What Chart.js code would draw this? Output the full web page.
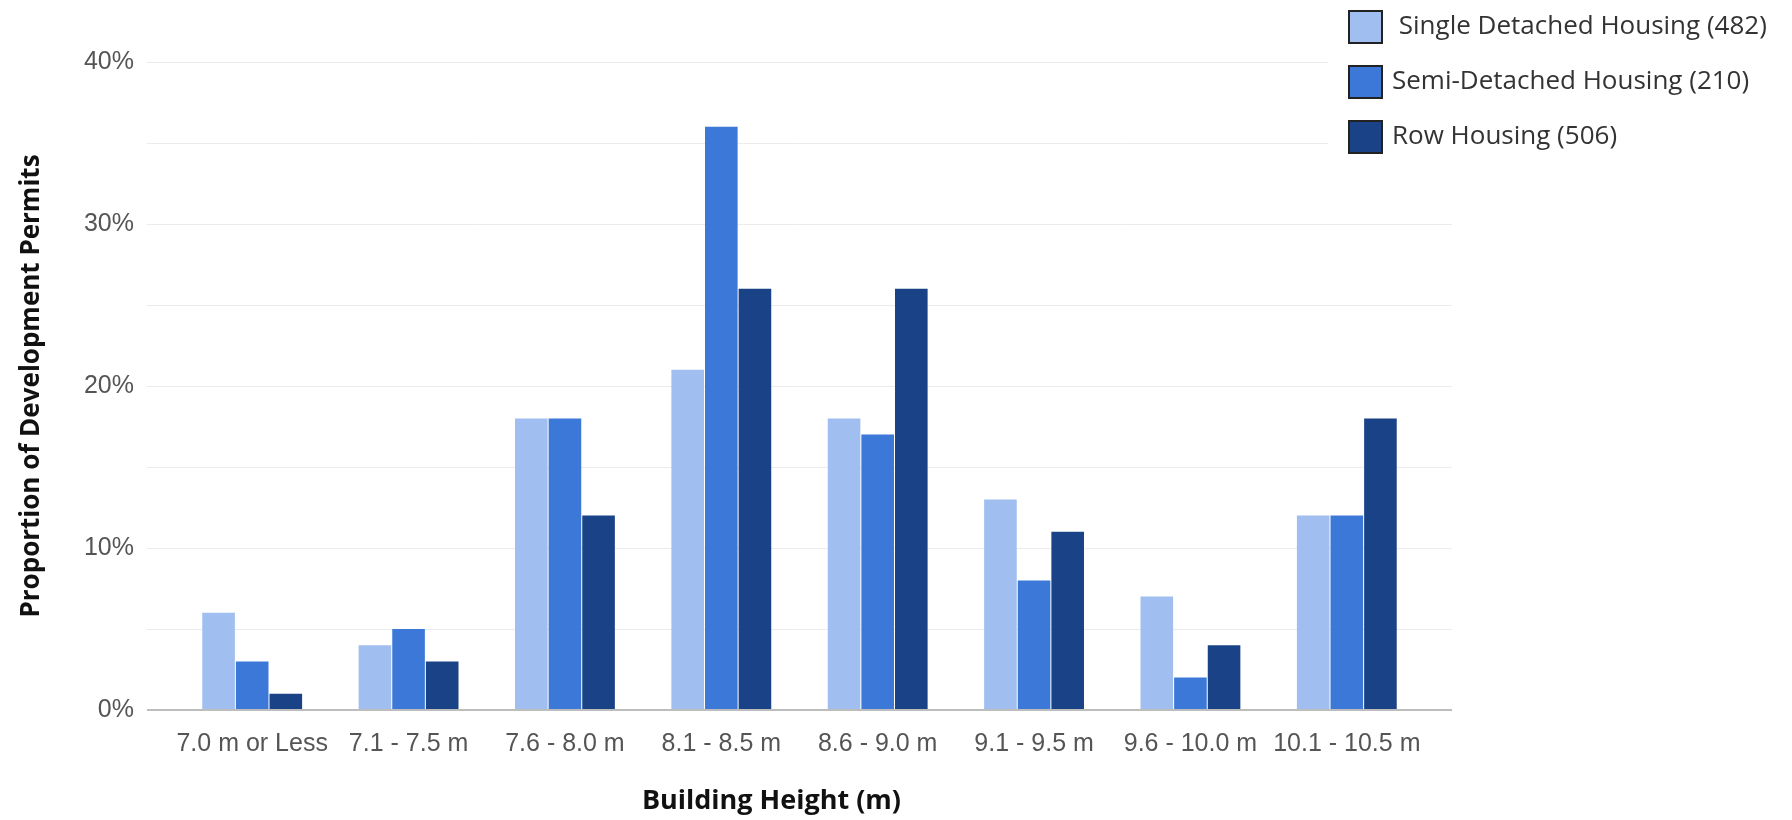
<!DOCTYPE html>
<html>
<head>
<meta charset="utf-8">
<script src="https://cdn.jsdelivr.net/npm/chart.js@4"></script>
<style>
  html, body { margin: 0; padding: 0; background: #fff; }
  #wrap { width: 1792px; height: 820px; }
</style>
</head>
<body>
<div id="wrap"><canvas id="myChart"></canvas></div>
<script>
const heightBands = ['7.0 m or Less', '7.1 - 7.5 m', '7.6 - 8.0 m', '8.1 - 8.5 m', '8.6 - 9.0 m', '9.1 - 9.5 m', '9.6 - 10.0 m', '10.1 - 10.5 m'];
const singleDetached = [6, 4, 18, 21, 18, 13, 7, 12];
const semiDetached = [3, 5, 18, 36, 17, 8, 2, 12];
const rowHousing = [1, 3, 12, 26, 26, 11, 4, 18];
const seriesNames = [' Single Detached Housing (482)', 'Semi-Detached Housing (210)', 'Row Housing (506)'];
const seriesColors = ['#a0bef0', '#3c78d8', '#1a4387'];
const yMax = 40;
const yStep = 5;

// grid lines and the axis line run a bit past the bars on both sides
const gridPlugin = {
    id: 'gridPlugin',
    beforeDatasetsDraw(chart) {
        const ctx = chart.ctx;
        const area = chart.chartArea;
        const y = chart.scales.y;
        ctx.save();
        ctx.strokeStyle = '#ebebeb';
        ctx.lineWidth = 1;
        y.ticks.forEach(t => {
            if (t.value === 0) return;
            const py = Math.round(y.getPixelForValue(t.value)) + 0.5;
            ctx.beginPath();
            ctx.moveTo(area.left - 27, py);
            ctx.lineTo(area.right + 27, py);
            ctx.stroke();
        });
        ctx.restore();
    },
    afterDatasetsDraw(chart) {
        const ctx = chart.ctx;
        const area = chart.chartArea;
        const py = chart.scales.y.getPixelForValue(0);
        ctx.save();
        ctx.strokeStyle = '#bdbdbd';
        ctx.lineWidth = 2;
        ctx.beginPath();
        ctx.moveTo(area.left - 27, py);
        ctx.lineTo(area.right + 27, py);
        ctx.stroke();
        ctx.restore();
    }
};

// legend box in the top right corner, on a white background
const legendPlugin = {
    id: 'legendPlugin',
    afterDraw(chart) {
        const ctx = chart.ctx;
        ctx.save();
        ctx.fillStyle = '#fff';
        ctx.fillRect(1328, 0, 464, 165);
        ctx.font = '26px "Open Sans"';
        ctx.textBaseline = 'middle';
        chart.data.datasets.forEach((ds, i) => {
            const top = 11 + i * 55;
            ctx.fillStyle = ds.backgroundColor;
            ctx.fillRect(1349, top, 33, 32);
            ctx.strokeStyle = '#222';
            ctx.lineWidth = 2;
            ctx.strokeRect(1349, top, 33, 32);
            ctx.fillStyle = '#333';
            ctx.fillText(ds.label, 1392, top + 16);
        });
        ctx.restore();
    }
};

function drawChart() {
    const ctx = document.getElementById('myChart');
    const data = [singleDetached, semiDetached, rowHousing];
    const myChart = new Chart(ctx, {
        type: 'bar',
        data: {
            labels: heightBands,
            datasets: seriesNames.map((name, i) => ({
                label: name,
                data: data[i],
                backgroundColor: seriesColors[i],
                borderWidth: 0,
                categoryPercentage: 0.645,
                barPercentage: 0.97
            }))
        },
        options: {
            responsive: true,
            maintainAspectRatio: false,
            animation: false,
            layout: { padding: { top: 62, right: 367, left: 0, bottom: 0 } },
            plugins: {
                legend: { display: false },
                tooltip: { enabled: false }
            },
            scales: {
                x: {
                    grid: { display: false },
                    border: { display: false },
                    ticks: {
                        color: '#555',
                        font: { family: '"Liberation Sans", Arial', size: 25 },
                        padding: 11,
                        maxRotation: 0,
                        autoSkip: false
                    },
                    title: {
                        display: true,
                        // trailing spaces pull the centred title a little to the left
                        text: 'Building Height (m)        ',
                        color: '#111',
                        font: { family: '"Open Sans"', size: 27, weight: 'bold' },
                        padding: { top: 0, bottom: 2 }
                    },
                    afterFit(scale) { scale.height = 110; }
                },
                y: {
                    min: 0,
                    max: yMax,
                    grid: { display: false },
                    border: { display: false },
                    ticks: {
                        stepSize: yStep,
                        color: '#555',
                        font: { family: '"Liberation Sans", Arial', size: 25 },
                        padding: 32,
                        callback: v => v % 10 === 0 ? v + '%' : ''
                    },
                    title: {
                        display: true,
                        text: 'Proportion of Development Permits',
                        color: '#111',
                        font: { family: '"Open Sans"', size: 26, weight: 'bold' },
                        padding: { top: 16, bottom: 0 }
                    },
                    afterFit(scale) { scale.width = 174; }
                }
            }
        },
        plugins: [gridPlugin, legendPlugin]
    });
    return myChart;
}

drawChart();
</script>
</body>
</html>
